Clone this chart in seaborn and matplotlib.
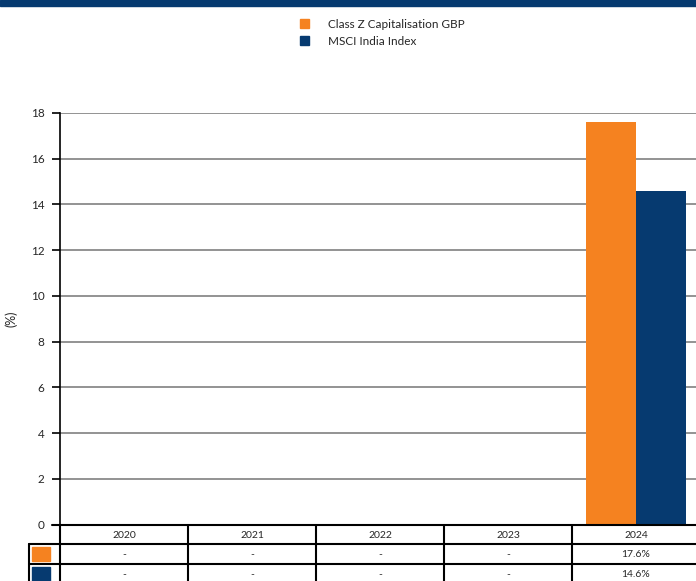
import pandas as pd
import seaborn as sns
import numpy as np
import matplotlib.pyplot as plt
from matplotlib.patches import Rectangle, Patch
from matplotlib.lines import Line2D

years = ['2020', '2021', '2022', '2023', '2024']
fund = [np.nan, np.nan, np.nan, np.nan, 17.6]
index = [np.nan, np.nan, np.nan, np.nan, 14.6]
series_names = ['Class Z Capitalisation GBP', 'MSCI India Index']
colors = ['#F58220', '#063A70']

W, H = 696, 581

df = pd.DataFrame({
    'year': years * 2,
    'value': fund + index,
    'series': [series_names[0]] * 5 + [series_names[1]] * 5,
})

sns.set_style('white')
plt.rcParams['font.family'] = ['Lato', 'DejaVu Sans']

fig = plt.figure(figsize=(W / 100, H / 100), dpi=100)


def fx(x):
    return x / W


def fy(y):
    return 1 - y / H


# axes: left 60px, top 113px, bottom 524px, one column of 128px per year
ax_left, ax_top, ax_bot, col_w = 60, 113, 524.5, 128
ax_w = col_w * 5
ax = fig.add_axes([fx(ax_left), fy(ax_bot), ax_w / W, (ax_bot - ax_top) / H])

sns.barplot(data=df, x='year', y='value', hue='series', order=years,
            hue_order=series_names, palette=colors, width=0.78,
            saturation=1, linewidth=0, ax=ax, legend=False)

ax.set_ylim(0, 18)
ax.set_yticks(range(0, 19, 2))
ax.set_xlim(-0.5, 4.5)
ax.grid(axis='y', color='#808080', linewidth=1.2)
ax.set_axisbelow(True)
for s in ['top', 'right', 'bottom']:
    ax.spines[s].set_visible(False)
ax.spines['left'].set_color('black')
ax.spines['left'].set_linewidth(1.2)
ax.tick_params(axis='y', length=6, width=1.2, color='black', labelsize=8.5, pad=5, left=True)
ax.set_xticks([])
ax.set_xlabel('')
ax.set_ylabel('(%)', fontsize=9)
ax.yaxis.set_label_coords((17 - ax_left) / ax_w, 0.5)

# top banner
fig.patches.append(Rectangle((0, fy(6)), 1, 6 / H, transform=fig.transFigure,
                             color='#063A70', zorder=5))

# legend
handles = [Patch(facecolor=c, edgecolor=c) for c in colors]
fig.legend(handles, series_names, loc='upper left',
           bbox_to_anchor=(fx(289), fy(8)), frameon=False, fontsize=8.5,
           handlelength=0.8, handleheight=0.9, handletextpad=1.6,
           labelspacing=0.5)

# data table below axes
rows_y = [ax_bot, 544, 563.5, 583]
lw = 1.5
icon_left = 29.5


def hline(x0, x1, y):
    fig.add_artist(Line2D([fx(x0), fx(x1)], [fy(y), fy(y)], color='black',
                          linewidth=lw, transform=fig.transFigure))


def vline(x, y0, y1):
    fig.add_artist(Line2D([fx(x), fx(x)], [fy(y0), fy(y1)], color='black',
                          linewidth=lw, transform=fig.transFigure))


right = ax_left + col_w * 5
hline(ax_left - 8, right, rows_y[0])
for y in rows_y[1:]:
    hline(icon_left, right, y)
for i in range(6):
    vline(ax_left + i * col_w, rows_y[0], rows_y[3])
vline(icon_left, rows_y[1], rows_y[3])

for i, yr in enumerate(years):
    cx = ax_left + (i + 0.5) * col_w
    fig.text(fx(cx), fy((rows_y[0] + rows_y[1]) / 2 + 1), yr, ha='center', va='center', fontsize=7.5)
    for r, vals in enumerate([fund, index]):
        v = vals[i]
        txt = '-' if np.isnan(v) else f'{v:.1f}%'
        ry = (rows_y[r + 1] + rows_y[r + 2]) / 2
        fig.text(fx(cx), fy(ry + 1), txt, ha='center', va='center', fontsize=7.5)

for r, c in enumerate(colors):
    y0 = rows_y[r + 1] + 3
    fig.patches.append(Rectangle((fx(icon_left + 2.5), fy(y0 + 14)), 18 / W, 14 / H,
                                 transform=fig.transFigure, color=c, zorder=5))

fig.savefig('out.png', dpi=100)
